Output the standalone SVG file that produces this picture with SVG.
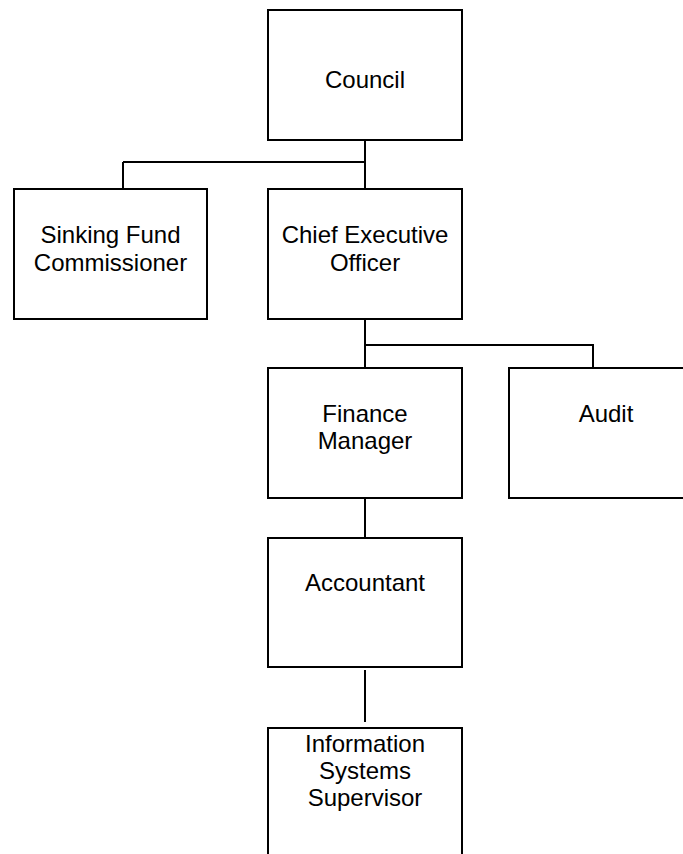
<svg xmlns="http://www.w3.org/2000/svg" width="683" height="854" viewBox="0 0 683 854">
<style>
.box{fill:#fff;stroke:#000;stroke-width:2}
.ln{fill:none;stroke:#000;stroke-width:2}
text{font-family:"Liberation Sans",Arial,sans-serif;font-size:24px;fill:#000;text-anchor:middle}
</style>
<rect width="683" height="854" fill="#fff"/>
<g id="connectors">
<path class="ln" d="M365,140V189M123,162H365M123,162V190"/>
<path class="ln" d="M365,319V368M365,345H593V368"/>
<path class="ln" d="M365,498V538"/>
<path class="ln" d="M365,670V722"/>
</g>
<g id="council">
<rect class="box" x="268" y="10" width="194" height="130"/>
<text x="365" y="88">Council</text>
</g>
<g id="sinking">
<rect class="box" x="14" y="189" width="193" height="130"/>
<text x="110.5" y="243">Sinking Fund</text>
<text x="110.5" y="270.5">Commissioner</text>
</g>
<g id="ceo">
<rect class="box" x="268" y="189" width="194" height="130"/>
<text x="365" y="243">Chief Executive</text>
<text x="365" y="270.5">Officer</text>
</g>
<g id="finance">
<rect class="box" x="268" y="368" width="194" height="130"/>
<text x="365" y="421.5">Finance</text>
<text x="365" y="449">Manager</text>
</g>
<g id="audit">
<rect class="box" x="509" y="368" width="194" height="130"/>
<text x="606" y="422">Audit</text>
</g>
<g id="accountant">
<rect class="box" x="268" y="538" width="194" height="129"/>
<text x="365" y="591">Accountant</text>
</g>
<g id="is-supervisor">
<rect class="box" x="268" y="728" width="194" height="140"/>
<text x="365" y="751.5">Information</text>
<text x="365" y="778.5">Systems</text>
<text x="365" y="805.5">Supervisor</text>
</g>
</svg>
